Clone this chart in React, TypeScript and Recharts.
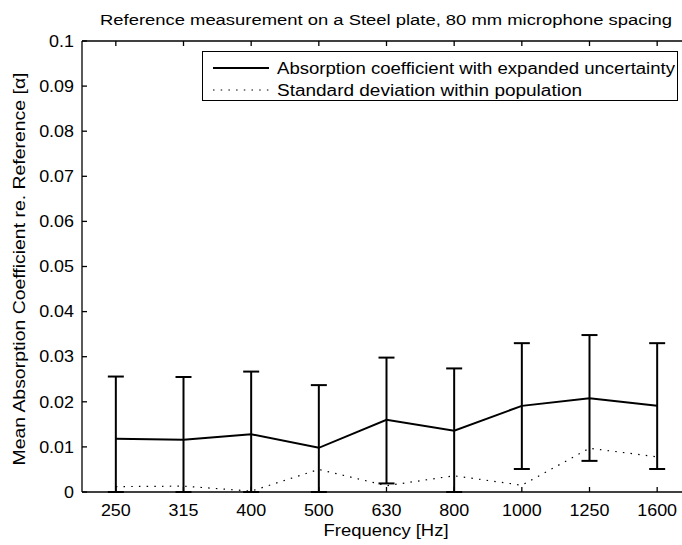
import React from 'react';
import { LineChart, Line, XAxis, YAxis, ErrorBar, Legend, Label } from 'recharts';

const FREQS = ['250', '315', '400', '500', '630', '800', '1000', '1250', '1600'];
const MEAN_ALPHA = [0.0118, 0.0116, 0.0128, 0.0098, 0.016, 0.0136, 0.0191, 0.0208, 0.0191];
// expanded uncertainty, read as [below, above] the mean (bars cut off at 0)
const U_BELOW = [0.0118, 0.0116, 0.0128, 0.0098, 0.0141, 0.0136, 0.014, 0.0139, 0.014];
const U_ABOVE = [0.0138, 0.0139, 0.0139, 0.0139, 0.0138, 0.0138, 0.0139, 0.014, 0.0139];
const STD_POP = [0.0012, 0.0013, 0.0002, 0.005, 0.0014, 0.0036, 0.0015, 0.0097, 0.0078];
const Y_TICKS = [0, 0.01, 0.02, 0.03, 0.04, 0.05, 0.06, 0.07, 0.08, 0.09, 0.1];
const X_POS = FREQS.map((_, i) => i + 1);

const data = FREQS.map((f, i) => ({
  idx: i + 1,
  freq: f,
  mean: MEAN_ALPHA[i],
  u: [U_BELOW[i], U_ABOVE[i]],
  std: STD_POP[i],
}));

const FONT = '"Liberation Sans", Arial, Helvetica, sans-serif';
const AXIS_W = 1.3;
const STRETCH = 1.12;

const BottomTick = (props: any) => {
  const { x, y, payload } = props;
  return (
    <g>
      <line x1={x} x2={x} y1={y} y2={y - 5} stroke="#000" strokeWidth={AXIS_W} />
      <text
        transform={`translate(${x} ${y + 24}) scale(${STRETCH} 1)`}
        textAnchor="middle"
        fontSize={16}
        fontFamily={FONT}
        fill="#000"
      >
        {FREQS[payload.value - 1]}
      </text>
    </g>
  );
};

const TopTick = (props: any) => {
  const { x, y } = props;
  return <line x1={x} x2={x} y1={y} y2={y + 5} stroke="#000" strokeWidth={AXIS_W} />;
};

const LeftTick = (props: any) => {
  const { x, y, payload } = props;
  const v = payload.value;
  const txt = v === 0 ? '0' : String(+v.toFixed(2));
  return (
    <g>
      <line x1={x} x2={x + 5} y1={y} y2={y} stroke="#000" strokeWidth={AXIS_W} />
      <text
        transform={`translate(${x - 8} ${y}) scale(${STRETCH} 1)`}
        dy="0.36em"
        textAnchor="end"
        fontSize={16}
        fontFamily={FONT}
        fill="#000"
      >
        {txt}
      </text>
    </g>
  );
};

const LEGEND_TEXT_W: Record<string, number> = { mean: 398, std: 305 };

const renderLegend = (props: any) => {
  const items = props.payload || [];
  return (
    <div
      style={{
        boxSizing: 'border-box',
        width: 476,
        height: 50,
        border: '1.3px solid #000',
        background: '#fff',
        padding: '5px 0 0 10px',
      }}
    >
      {items.map((entry: any) => {
        const dotted = entry.dataKey === 'std';
        return (
          <svg key={entry.value} width={462} height={22} style={{ display: 'block' }}>
            <line
              x1={0}
              x2={56}
              y1={11}
              y2={11}
              stroke="#000"
              strokeWidth={dotted ? 1.2 : 2}
              strokeDasharray={dotted ? '1.5 6.2' : undefined}
            />
            <text
              x={64}
              y={17}
              fontSize={16}
              fontFamily={FONT}
              fill="#000"
              textLength={LEGEND_TEXT_W[entry.dataKey]}
              lengthAdjust="spacingAndGlyphs"
            >
              {entry.value}
            </text>
          </svg>
        );
      })}
    </div>
  );
};

export default function App() {
  return (
    <div
      style={{
        position: 'absolute',
        left: 0,
        top: 0,
        width: 682,
        height: 545,
        overflow: 'hidden',
        background: '#fff',
      }}
    >
      <LineChart width={700} height={545} data={data} margin={{ top: 40, right: 9, bottom: 23, left: 22 }}>
        <XAxis
          dataKey="idx"
          type="number"
          domain={[0.5, 9.5]}
          ticks={X_POS}
          interval={0}
          allowDataOverflow
          height={30}
          stroke="#000"
          strokeWidth={AXIS_W}
          tickLine={false}
          tickSize={0}
          tickMargin={0}
          tick={<BottomTick />}
        >
          <Label
            content={() => (
              <g>
                <text
                  x={386}
                  y={536}
                  textAnchor="middle"
                  fontSize={16}
                  fontFamily={FONT}
                  fill="#000"
                  textLength={125}
                  lengthAdjust="spacingAndGlyphs"
                >
                  Frequency [Hz]
                </text>
                <text
                  x={386}
                  y={25}
                  textAnchor="middle"
                  fontSize={15.5}
                  fontFamily={FONT}
                  fill="#000"
                  textLength={572}
                  lengthAdjust="spacingAndGlyphs"
                >
                  Reference measurement on a Steel plate, 80 mm microphone spacing
                </text>
              </g>
            )}
          />
        </XAxis>
        <XAxis
          xAxisId="top"
          orientation="top"
          dataKey="idx"
          type="number"
          domain={[0.5, 9.5]}
          ticks={X_POS}
          interval={0}
          allowDataOverflow
          height={1}
          stroke="#000"
          strokeWidth={AXIS_W}
          tickLine={false}
          tickSize={0}
          tickMargin={0}
          tick={<TopTick />}
        />
        <YAxis
          type="number"
          domain={[0, 0.1]}
          ticks={Y_TICKS}
          interval={0}
          allowDataOverflow
          width={60}
          stroke="#000"
          strokeWidth={AXIS_W}
          tickLine={false}
          tickSize={0}
          tickMargin={0}
          tick={<LeftTick />}
        >
          <Label
            content={() => (
              <text
                x={25}
                y={269}
                transform="rotate(-90 25 269)"
                textAnchor="middle"
                fontSize={16}
                fontFamily={FONT}
                fill="#000"
                textLength={393}
                lengthAdjust="spacingAndGlyphs"
              >
                Mean Absorption Coefficient re. Reference [α]
              </text>
            )}
          />
        </YAxis>
        <Legend
          layout="vertical"
          align="center"
          verticalAlign="middle"
          content={renderLegend}
          wrapperStyle={{ position: 'absolute', left: 202, top: 51, width: 476, height: 50 }}
        />
        <Line
          dataKey="mean"
          name="Absorption coefficient with expanded uncertainty"
          stroke="#000"
          strokeWidth={2}
          dot={false}
          isAnimationActive={false}
        >
          <ErrorBar dataKey="u" width={8} stroke="#000" strokeWidth={2} direction="y" isAnimationActive={false} />
        </Line>
        <Line
          dataKey="std"
          name="Standard deviation within population"
          stroke="#000"
          strokeWidth={1.2}
          strokeDasharray="1.5 6.2"
          dot={false}
          isAnimationActive={false}
        />
      </LineChart>
    </div>
  );
}
